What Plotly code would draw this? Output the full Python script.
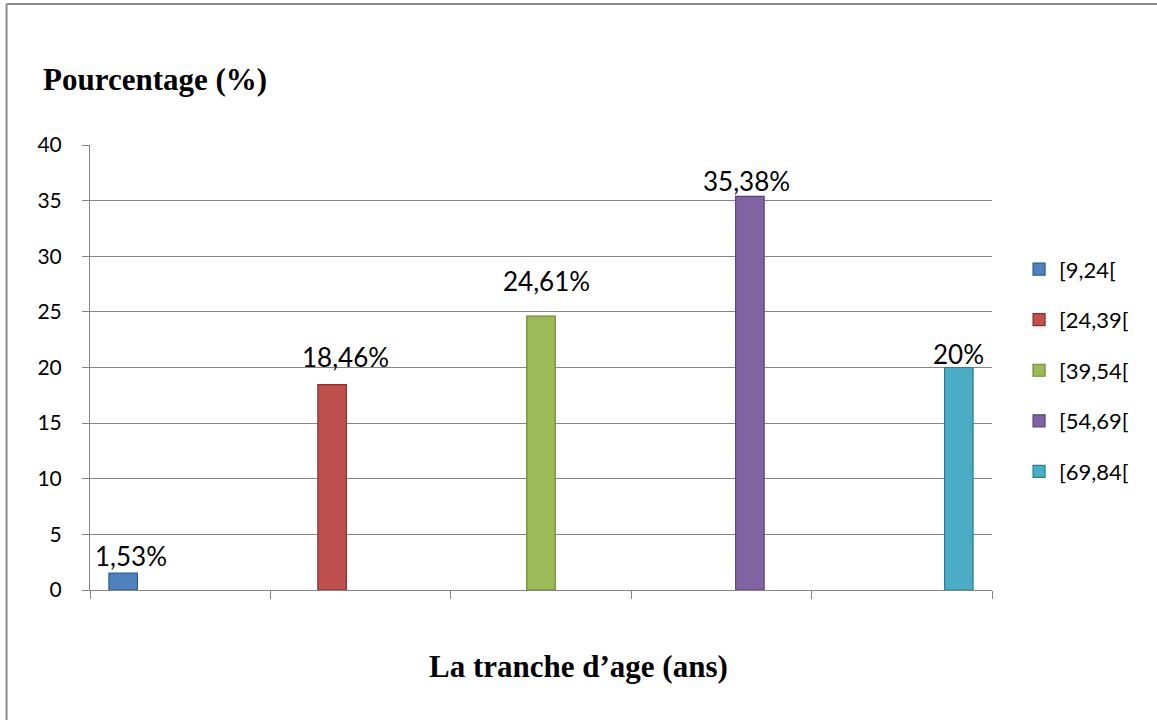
import plotly.graph_objects as go

# Age brackets and their share of the sample (%)
tranches = ["[9,24[", "[24,39[", "[39,54[", "[54,69[", "[69,84["]
pourcentages = [1.53, 18.46, 24.61, 35.38, 20]
etiquettes = ["1,53%", "18,46%", "24,61%", "35,38%", "20%"]
couleurs = ["#4F81BD", "#C0504D", "#9BBB59", "#8064A2", "#4BACC6"]
contours = ["#2C5B8F", "#8E2C2A", "#6E8A35", "#5A4378", "#2A7F98"]

# hand-placed data-label offsets (pixels) above each bar
decalage_x = [8, 13, 5, -3, 0]
decalage_y = [-1, 10, 17, -3, -4]

BARGAP = 0.21
n = len(tranches)
largeur = (1 - BARGAP) / n

fig = go.Figure()
for i, (nom, val) in enumerate(zip(tranches, pourcentages)):
    y = [None] * n
    y[i] = val
    fig.add_trace(go.Bar(
        name=nom,
        x=tranches,
        y=y,
        marker=dict(color=couleurs[i], line=dict(color=contours[i], width=1.2)),
        legendgroup=nom,
    ))

annotations = []
for i, (val, lab) in enumerate(zip(pourcentages, etiquettes)):
    annotations.append(dict(
        text=lab,
        xref="x", yref="y",
        x=i + (i - (n - 1) / 2) * largeur,
        y=val,
        xanchor="center", yanchor="bottom",
        xshift=decalage_x[i], yshift=decalage_y[i],
        showarrow=False,
        font=dict(family="Lato, Carlito, sans-serif", size=26, color="#000000"),
    ))

annotations += [
    dict(
        text="<b>Pourcentage (%)</b>",
        xref="paper", yref="paper",
        x=-0.054, y=1.148, xanchor="left", yanchor="middle",
        showarrow=False,
        font=dict(family="Liberation Serif, Times New Roman, serif", size=31, color="#000000"),
    ),
    dict(
        text="<b>La tranche d\u2019age (ans)</b>",
        xref="paper", yref="paper",
        x=0.542, y=-0.172, xanchor="center", yanchor="middle",
        showarrow=False,
        font=dict(family="Liberation Serif, Times New Roman, serif", size=31, color="#000000"),
    ),
]

fig.update_layout(
    width=1157,
    height=720,
    paper_bgcolor="white",
    plot_bgcolor="white",
    barmode="group",
    bargap=BARGAP,
    bargroupgap=0,
    margin=dict(l=90, r=165, t=145, b=130),
    font=dict(family="Lato, Carlito, sans-serif", size=21, color="#000000"),
    showlegend=True,
    legend=dict(
        x=1.030, xanchor="left",
        y=0.768, yanchor="top",
        font=dict(size=22),
        tracegroupgap=19,
        itemwidth=30,
        bgcolor="rgba(0,0,0,0)",
    ),
    xaxis=dict(
        showticklabels=False,
        tickson="boundaries",
        ticks="outside",
        ticklen=8,
        tickcolor="#868686",
        showline=True,
        linecolor="#868686",
        linewidth=1,
        showgrid=False,
        zeroline=False,
    ),
    yaxis=dict(
        range=[0, 40],
        dtick=5,
        ticks="outside",
        ticklen=7,
        tickcolor="#868686",
        showline=True,
        linecolor="#868686",
        linewidth=1,
        showgrid=True,
        gridcolor="#868686",
        gridwidth=1,
        zeroline=False,
        tickfont=dict(size=21),
        ticklabelstandoff=16,
    ),
    annotations=annotations,
    shapes=[
        # outer frame of the chart area
        dict(type="line", xref="paper", yref="paper",
             x0=-0.0925, x1=1.19, y0=1.3167, y1=1.3167,
             line=dict(color="#8C8C8C", width=2)),
        dict(type="line", xref="paper", yref="paper",
             x0=-0.0925, x1=-0.0925, y0=1.3167, y1=-0.30,
             line=dict(color="#8C8C8C", width=2)),
    ],
)

fig.write_html("out.html")
